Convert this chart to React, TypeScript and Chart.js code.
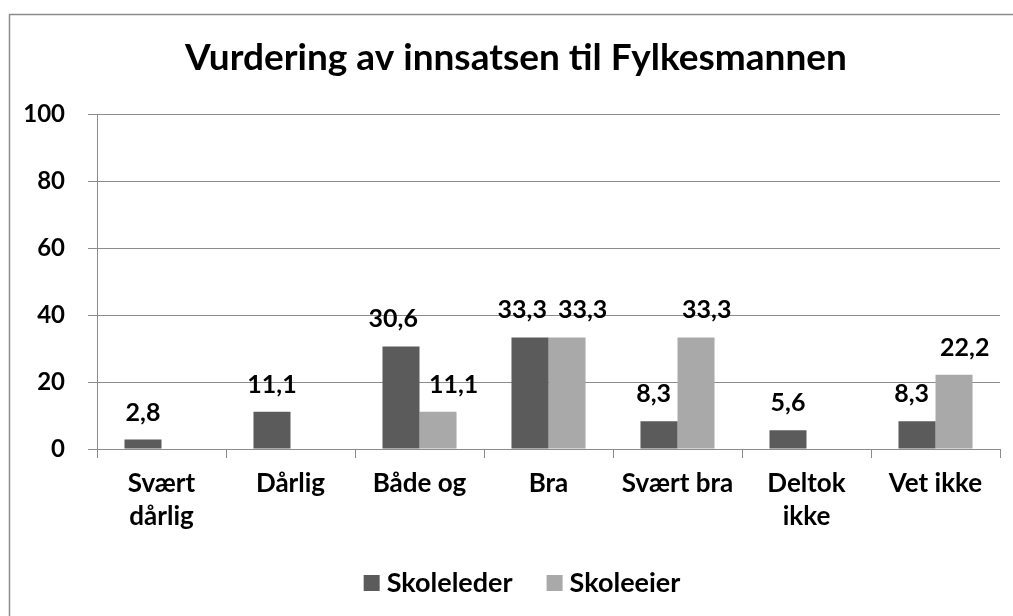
import React, { useEffect, useRef } from 'react';
import { Chart, registerables } from 'chart.js';

Chart.register(...registerables);

const TITLE = 'Vurdering av innsatsen til Fylkesmannen';
const categories: (string | string[])[] = [
  ['Svært', 'dårlig'],
  'Dårlig',
  'Både og',
  'Bra',
  'Svært bra',
  ['Deltok', 'ikke'],
  'Vet ikke',
];
const seriesNames = ['Skoleleder', 'Skoleeier'];
const skoleleder = [2.8, 11.1, 30.6, 33.3, 8.3, 5.6, 8.3];
const skoleeier = [null, null, 11.1, 33.3, 33.3, null, 22.2];
const yMin = 0;
const yMax = 100;
const yStep = 20;

const FONT = 'Lato, "Open Sans", sans-serif';
const fmt = (v: number) => v.toFixed(1).replace('.', ',');

const decor = {
  id: 'decor',
  beforeDraw(chart: any) {
    const ctx = chart.ctx;
    ctx.save();
    ctx.fillStyle = '#ffffff';
    ctx.fillRect(0, 0, chart.width, chart.height);
    ctx.strokeStyle = '#8c8c8c';
    ctx.lineWidth = 1.5;
    ctx.strokeRect(9.5, 14.5, chart.width + 40, chart.height + 40);
    ctx.restore();
  },
  afterDatasetsDraw(chart: any) {
    const ctx = chart.ctx;
    ctx.save();
    ctx.font = `bold 25px ${FONT}`;
    ctx.fillStyle = '#000';
    ctx.textAlign = 'center';
    ctx.textBaseline = 'alphabetic';
    const n = chart.data.labels.length;
    for (let i = 0; i < n; i++) {
      const items: { x: number; y: number; w: number; t: string }[] = [];
      chart.data.datasets.forEach((ds: any, di: number) => {
        const v = ds.data[i];
        if (v == null) return;
        const el = chart.getDatasetMeta(di).data[i];
        const t = fmt(v);
        items.push({ x: el.x, y: el.y - 19, w: ctx.measureText(t).width, t });
      });
      if (items.length === 2) {
        const need = items[0].w / 2 + items[1].w / 2 + 11 - (items[1].x - items[0].x);
        if (need > 0) {
          items[0].x -= need * 0.33;
          items[1].x += need * 0.67;
        }
      }
      items.forEach((it) => ctx.fillText(it.t, it.x, it.y));
    }
    ctx.restore();
  },
  afterDraw(chart: any) {
    const ctx = chart.ctx;
    ctx.save();
    const cx = 516;
    ctx.fillStyle = '#000';
    ctx.font = `bold 37px ${FONT}`;
    ctx.textAlign = 'center';
    ctx.textBaseline = 'alphabetic';
    ctx.fillText(TITLE, cx, 70);

    // legend
    ctx.font = `bold 27px ${FONT}`;
    ctx.textAlign = 'left';
    const box = 16;
    const gapBoxText = 7;
    const gapItems = 34;
    const ds = chart.data.datasets;
    const widths = ds.map((d: any) => box + gapBoxText + ctx.measureText(d.label).width);
    const total = widths.reduce((a: number, b: number) => a + b, 0) + gapItems * (ds.length - 1);
    let x = 522 - total / 2;
    const baseline = 592;
    ds.forEach((d: any, i: number) => {
      ctx.fillStyle = d.backgroundColor;
      ctx.fillRect(x, baseline - 17, box, box);
      ctx.fillStyle = '#000';
      ctx.fillText(d.label, x + box + gapBoxText, baseline);
      x += widths[i] + gapItems;
    });
    ctx.restore();
  },
};

export default function App() {
  const ref = useRef<HTMLCanvasElement | null>(null);
  useEffect(() => {
    if (!ref.current) return;
    const chart = new Chart(ref.current, {
      type: 'bar',
      data: {
        labels: categories,
        datasets: [
          { label: seriesNames[0], data: skoleleder, backgroundColor: '#5b5b5b' },
          { label: seriesNames[1], data: skoleeier, backgroundColor: '#a9a9a9' },
        ],
      },
      options: {
        animation: false,
        responsive: false,
        maintainAspectRatio: false,
        layout: { padding: { left: 0, right: 13, top: 114, bottom: 0 } },
        datasets: { bar: { barPercentage: 1, categoryPercentage: 0.574 } },
        plugins: { legend: { display: false }, title: { display: false }, tooltip: { enabled: false } },
        scales: {
          x: {
            grid: { display: true, drawOnChartArea: false, drawTicks: true, tickLength: 9, color: '#8c8c8c', offset: true },
            border: { display: true, color: '#8c8c8c', width: 1 },
            ticks: { color: '#000', font: { family: FONT, size: 26, weight: 'bold', lineHeight: 1.27 }, padding: 9, maxRotation: 0, autoSkip: false },
            afterFit: (s: any) => { s.height = 616 - 449; },
          },
          y: {
            min: yMin,
            max: yMax,
            ticks: { stepSize: yStep, color: '#000', font: { family: FONT, size: 24, weight: 'bold' }, padding: 23 },
            grid: { color: '#8c8c8c', tickLength: 9, lineWidth: 1 },
            border: { display: true, color: '#8c8c8c', width: 1 },
            afterFit: (s: any) => { s.width = 97; },
          },
        },
      },
      plugins: [decor],
    });
    return () => chart.destroy();
  }, []);
  return (
    <div style={{ position: 'fixed', left: 0, top: 0, width: 1013, height: 616, background: '#fff' }}>
      <canvas ref={ref} width={1013} height={616} style={{ display: 'block', width: 1013, height: 616 }} />
    </div>
  );
}
